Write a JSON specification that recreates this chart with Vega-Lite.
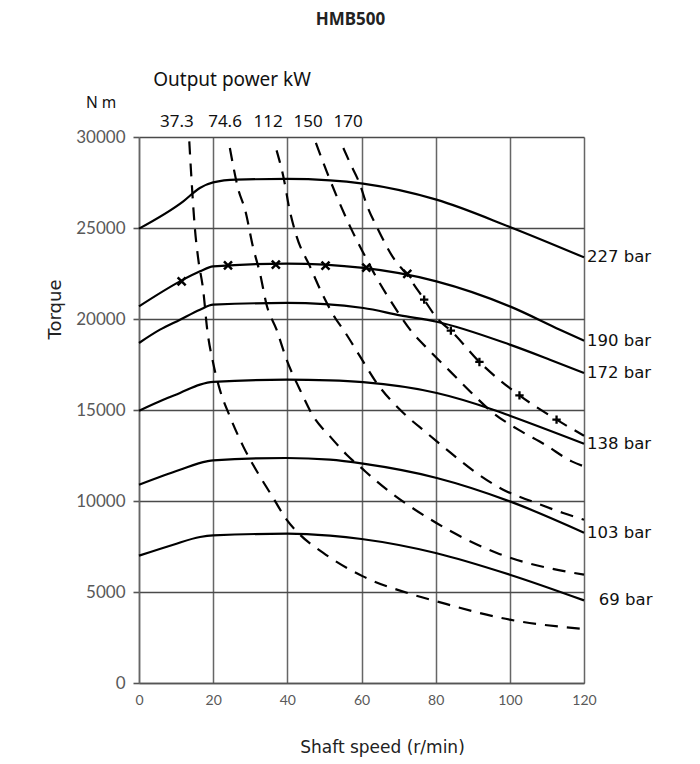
{
  "$schema": "https://vega.github.io/schema/vega-lite/v6.json",
  "width": 445,
  "height": 546,
  "autosize": {"type": "none"},
  "padding": {"left": 139, "top": 137, "right": 116, "bottom": 81},
  "background": "white",
  "title": {"text": "HMB500", "fontSize": 17, "fontWeight": "bold", "font": "Noto Sans", "color": "#222", "anchor": "middle", "dx": -11, "offset": 42},
  "config": {"view": {"stroke": null}},
  "datasets": {
    "curves": [
      {"series": "227 bar", "kind": "pressure", "speed": 0, "torque": 24964},
      {"series": "227 bar", "kind": "pressure", "speed": 11.95, "torque": 26464},
      {"series": "227 bar", "kind": "pressure", "speed": 16.4, "torque": 27200},
      {"series": "227 bar", "kind": "pressure", "speed": 20, "torque": 27508},
      {"series": "227 bar", "kind": "pressure", "speed": 26.3, "torque": 27656},
      {"series": "227 bar", "kind": "pressure", "speed": 39.8, "torque": 27695},
      {"series": "227 bar", "kind": "pressure", "speed": 51.5, "torque": 27618},
      {"series": "227 bar", "kind": "pressure", "speed": 60.4, "torque": 27437},
      {"series": "227 bar", "kind": "pressure", "speed": 80.2, "torque": 26557},
      {"series": "227 bar", "kind": "pressure", "speed": 100, "torque": 25057},
      {"series": "227 bar", "kind": "pressure", "speed": 120, "torque": 23387},
      {"series": "190 bar", "kind": "pressure", "speed": 0, "torque": 20694},
      {"series": "190 bar", "kind": "pressure", "speed": 11.06, "torque": 22068},
      {"series": "190 bar", "kind": "pressure", "speed": 16.45, "torque": 22618},
      {"series": "190 bar", "kind": "pressure", "speed": 20, "torque": 22892},
      {"series": "190 bar", "kind": "pressure", "speed": 39.8, "torque": 23041},
      {"series": "190 bar", "kind": "pressure", "speed": 60.5, "torque": 22804},
      {"series": "190 bar", "kind": "pressure", "speed": 80.2, "torque": 22068},
      {"series": "190 bar", "kind": "pressure", "speed": 100, "torque": 20694},
      {"series": "190 bar", "kind": "pressure", "speed": 113.5, "torque": 19414},
      {"series": "190 bar", "kind": "pressure", "speed": 120, "torque": 18809},
      {"series": "172 bar", "kind": "pressure", "speed": 0, "torque": 18683},
      {"series": "172 bar", "kind": "pressure", "speed": 5.66, "torque": 19414},
      {"series": "172 bar", "kind": "pressure", "speed": 11.06, "torque": 19963},
      {"series": "172 bar", "kind": "pressure", "speed": 16.45, "torque": 20513},
      {"series": "172 bar", "kind": "pressure", "speed": 20, "torque": 20788},
      {"series": "172 bar", "kind": "pressure", "speed": 39.8, "torque": 20881},
      {"series": "172 bar", "kind": "pressure", "speed": 60.5, "torque": 20606},
      {"series": "172 bar", "kind": "pressure", "speed": 70.4, "torque": 20200},
      {"series": "172 bar", "kind": "pressure", "speed": 80.3, "torque": 19850},
      {"series": "172 bar", "kind": "pressure", "speed": 100, "torque": 18590},
      {"series": "172 bar", "kind": "pressure", "speed": 110.8, "torque": 17765},
      {"series": "172 bar", "kind": "pressure", "speed": 120, "torque": 17035},
      {"series": "138 bar", "kind": "pressure", "speed": 0, "torque": 14963},
      {"series": "138 bar", "kind": "pressure", "speed": 6.55, "torque": 15567},
      {"series": "138 bar", "kind": "pressure", "speed": 11.06, "torque": 15936},
      {"series": "138 bar", "kind": "pressure", "speed": 16.45, "torque": 16392},
      {"series": "138 bar", "kind": "pressure", "speed": 20, "torque": 16540},
      {"series": "138 bar", "kind": "pressure", "speed": 39.8, "torque": 16667},
      {"series": "138 bar", "kind": "pressure", "speed": 51.5, "torque": 16628},
      {"series": "138 bar", "kind": "pressure", "speed": 60.4, "torque": 16530},
      {"series": "138 bar", "kind": "pressure", "speed": 80.3, "torque": 15936},
      {"series": "138 bar", "kind": "pressure", "speed": 95.5, "torque": 15018},
      {"series": "138 bar", "kind": "pressure", "speed": 100, "torque": 14688},
      {"series": "138 bar", "kind": "pressure", "speed": 120, "torque": 13150},
      {"series": "103 bar", "kind": "pressure", "speed": 0, "torque": 10897},
      {"series": "103 bar", "kind": "pressure", "speed": 11.06, "torque": 11721},
      {"series": "103 bar", "kind": "pressure", "speed": 18.26, "torque": 12177},
      {"series": "103 bar", "kind": "pressure", "speed": 20, "torque": 12232},
      {"series": "103 bar", "kind": "pressure", "speed": 39.8, "torque": 12364},
      {"series": "103 bar", "kind": "pressure", "speed": 51.5, "torque": 12270},
      {"series": "103 bar", "kind": "pressure", "speed": 60.4, "torque": 12051},
      {"series": "103 bar", "kind": "pressure", "speed": 80.3, "torque": 11265},
      {"series": "103 bar", "kind": "pressure", "speed": 100, "torque": 9979},
      {"series": "103 bar", "kind": "pressure", "speed": 120, "torque": 8259},
      {"series": "69 bar", "kind": "pressure", "speed": 0, "torque": 6995},
      {"series": "69 bar", "kind": "pressure", "speed": 9.25, "torque": 7600},
      {"series": "69 bar", "kind": "pressure", "speed": 16.45, "torque": 8023},
      {"series": "69 bar", "kind": "pressure", "speed": 20, "torque": 8111},
      {"series": "69 bar", "kind": "pressure", "speed": 40, "torque": 8204},
      {"series": "69 bar", "kind": "pressure", "speed": 51.5, "torque": 8094},
      {"series": "69 bar", "kind": "pressure", "speed": 60, "torque": 7913},
      {"series": "69 bar", "kind": "pressure", "speed": 80, "torque": 7144},
      {"series": "69 bar", "kind": "pressure", "speed": 100, "torque": 5951},
      {"series": "69 bar", "kind": "pressure", "speed": 120, "torque": 4539},
      {"series": "37.3 kW", "kind": "power", "speed": 13.56, "torque": 29761},
      {"series": "37.3 kW", "kind": "power", "speed": 14.0, "torque": 28206},
      {"series": "37.3 kW", "kind": "power", "speed": 15.1, "torque": 24909},
      {"series": "37.3 kW", "kind": "power", "speed": 16.0, "torque": 23260},
      {"series": "37.3 kW", "kind": "power", "speed": 17.3, "torque": 21612},
      {"series": "37.3 kW", "kind": "power", "speed": 18.4, "torque": 19414},
      {"series": "37.3 kW", "kind": "power", "speed": 20.0, "torque": 17584},
      {"series": "37.3 kW", "kind": "power", "speed": 21.8, "torque": 16117},
      {"series": "37.3 kW", "kind": "power", "speed": 24.5, "torque": 14650},
      {"series": "37.3 kW", "kind": "power", "speed": 28.1, "torque": 13001},
      {"series": "37.3 kW", "kind": "power", "speed": 32.6, "torque": 11353},
      {"series": "37.3 kW", "kind": "power", "speed": 36.2, "torque": 10166},
      {"series": "37.3 kW", "kind": "power", "speed": 39.8, "torque": 8973},
      {"series": "37.3 kW", "kind": "power", "speed": 43.4, "torque": 8149},
      {"series": "37.3 kW", "kind": "power", "speed": 49.6, "torque": 7160},
      {"series": "37.3 kW", "kind": "power", "speed": 60.4, "torque": 5858},
      {"series": "37.3 kW", "kind": "power", "speed": 73.9, "torque": 4852},
      {"series": "37.3 kW", "kind": "power", "speed": 80.3, "torque": 4484},
      {"series": "37.3 kW", "kind": "power", "speed": 100, "torque": 3478},
      {"series": "37.3 kW", "kind": "power", "speed": 120, "torque": 2967},
      {"series": "74.6 kW", "kind": "power", "speed": 24.5, "torque": 29398},
      {"series": "74.6 kW", "kind": "power", "speed": 26.8, "torque": 27107},
      {"series": "74.6 kW", "kind": "power", "speed": 28.6, "torque": 26008},
      {"series": "74.6 kW", "kind": "power", "speed": 30.8, "torque": 23903},
      {"series": "74.6 kW", "kind": "power", "speed": 32.6, "torque": 22530},
      {"series": "74.6 kW", "kind": "power", "speed": 34.4, "torque": 20788},
      {"series": "74.6 kW", "kind": "power", "speed": 37.1, "torque": 19414},
      {"series": "74.6 kW", "kind": "power", "speed": 39.8, "torque": 17765},
      {"series": "74.6 kW", "kind": "power", "speed": 43.4, "torque": 16117},
      {"series": "74.6 kW", "kind": "power", "speed": 47.0, "torque": 14650},
      {"series": "74.6 kW", "kind": "power", "speed": 51.5, "torque": 13551},
      {"series": "74.6 kW", "kind": "power", "speed": 56.0, "torque": 12545},
      {"series": "74.6 kW", "kind": "power", "speed": 60.5, "torque": 11721},
      {"series": "74.6 kW", "kind": "power", "speed": 64.1, "torque": 11078},
      {"series": "74.6 kW", "kind": "power", "speed": 80.2, "torque": 8792},
      {"series": "74.6 kW", "kind": "power", "speed": 96.5, "torque": 7144},
      {"series": "74.6 kW", "kind": "power", "speed": 120, "torque": 5951},
      {"series": "112 kW", "kind": "power", "speed": 37.1, "torque": 29266},
      {"series": "112 kW", "kind": "power", "speed": 39.1, "torque": 27656},
      {"series": "112 kW", "kind": "power", "speed": 40.5, "torque": 26101},
      {"series": "112 kW", "kind": "power", "speed": 42.5, "torque": 24541},
      {"series": "112 kW", "kind": "power", "speed": 46.1, "torque": 22892},
      {"series": "112 kW", "kind": "power", "speed": 49.3, "torque": 21431},
      {"series": "112 kW", "kind": "power", "speed": 52.9, "torque": 20057},
      {"series": "112 kW", "kind": "power", "speed": 55.1, "torque": 19414},
      {"series": "112 kW", "kind": "power", "speed": 59.6, "torque": 17947},
      {"series": "112 kW", "kind": "power", "speed": 64.1, "torque": 16485},
      {"series": "112 kW", "kind": "power", "speed": 71.3, "torque": 14837},
      {"series": "112 kW", "kind": "power", "speed": 77.6, "torque": 13738},
      {"series": "112 kW", "kind": "power", "speed": 83.0, "torque": 12820},
      {"series": "112 kW", "kind": "power", "speed": 91.0, "torque": 11540},
      {"series": "112 kW", "kind": "power", "speed": 98.2, "torque": 10622},
      {"series": "112 kW", "kind": "power", "speed": 106.3, "torque": 9950},
      {"series": "112 kW", "kind": "power", "speed": 114.4, "torque": 9342},
      {"series": "112 kW", "kind": "power", "speed": 120, "torque": 8973},
      {"series": "150 kW", "kind": "power", "speed": 47.7, "torque": 29673},
      {"series": "150 kW", "kind": "power", "speed": 50.6, "torque": 28112},
      {"series": "150 kW", "kind": "power", "speed": 53.5, "torque": 26651},
      {"series": "150 kW", "kind": "power", "speed": 56.9, "torque": 25090},
      {"series": "150 kW", "kind": "power", "speed": 60.5, "torque": 23629},
      {"series": "150 kW", "kind": "power", "speed": 64.1, "torque": 22255},
      {"series": "150 kW", "kind": "power", "speed": 68.2, "torque": 20881},
      {"series": "150 kW", "kind": "power", "speed": 73.1, "torque": 19414},
      {"series": "150 kW", "kind": "power", "speed": 78.5, "torque": 18221},
      {"series": "150 kW", "kind": "power", "speed": 83.9, "torque": 17122},
      {"series": "150 kW", "kind": "power", "speed": 89.7, "torque": 15936},
      {"series": "150 kW", "kind": "power", "speed": 95.5, "torque": 14837},
      {"series": "150 kW", "kind": "power", "speed": 102.3, "torque": 13919},
      {"series": "150 kW", "kind": "power", "speed": 109.5, "torque": 13095},
      {"series": "150 kW", "kind": "power", "speed": 116.7, "torque": 12177},
      {"series": "150 kW", "kind": "power", "speed": 120, "torque": 11902},
      {"series": "170 kW", "kind": "power", "speed": 55.1, "torque": 29398},
      {"series": "170 kW", "kind": "power", "speed": 56.9, "torque": 28574},
      {"series": "170 kW", "kind": "power", "speed": 59.6, "torque": 27382},
      {"series": "170 kW", "kind": "power", "speed": 61.4, "torque": 26283},
      {"series": "170 kW", "kind": "power", "speed": 64.5, "torque": 24909},
      {"series": "170 kW", "kind": "power", "speed": 68.6, "torque": 23354},
      {"series": "170 kW", "kind": "power", "speed": 72.2, "torque": 22436},
      {"series": "170 kW", "kind": "power", "speed": 75.7, "torque": 21431},
      {"series": "170 kW", "kind": "power", "speed": 80.7, "torque": 19963},
      {"series": "170 kW", "kind": "power", "speed": 84.1, "torque": 19359},
      {"series": "170 kW", "kind": "power", "speed": 91.8, "torque": 17639},
      {"series": "170 kW", "kind": "power", "speed": 102.6, "torque": 15804},
      {"series": "170 kW", "kind": "power", "speed": 112.6, "torque": 14468},
      {"series": "170 kW", "kind": "power", "speed": 120, "torque": 13589}
    ],
    "crosses": [
      {"speed": 11.5, "torque": 22068},
      {"speed": 24.0, "torque": 22947},
      {"speed": 36.9, "torque": 22985},
      {"speed": 50.3, "torque": 22930},
      {"speed": 61.3, "torque": 22820},
      {"speed": 72.35, "torque": 22475}
    ],
    "pluses": [
      {"speed": 76.9, "torque": 21062},
      {"speed": 84.1, "torque": 19359},
      {"speed": 91.8, "torque": 17639},
      {"speed": 102.6, "torque": 15804},
      {"speed": 112.6, "torque": 14468}
    ],
    "endLabels": [
      {"label": "227 bar", "speed": 120, "torque": 23387},
      {"label": "190 bar", "speed": 120, "torque": 18809},
      {"label": "172 bar", "speed": 120, "torque": 17035},
      {"label": "138 bar", "speed": 120, "torque": 13150},
      {"label": "103 bar", "speed": 120, "torque": 8259},
      {"label": "69 bar", "speed": 123.2, "torque": 4580}
    ],
    "powerLabels": [
      {"label": "37.3", "speed": 10.2, "torque": 30850},
      {"label": "74.6", "speed": 23.2, "torque": 30850},
      {"label": "112", "speed": 34.8, "torque": 30850},
      {"label": "150", "speed": 45.6, "torque": 30850},
      {"label": "170", "speed": 56.4, "torque": 30850}
    ],
    "notes": [
      {"label": "Output power kW", "speed": 25.1, "torque": 33150, "size": "big"},
      {"label": "N m", "speed": -10.2, "torque": 31890, "size": "small"}
    ]
  },
  "layer": [
    {
      "data": {"name": "curves"},
      "transform": [{"filter": "datum.kind === 'pressure'"}],
      "mark": {"type": "line", "color": "black", "strokeWidth": 2.2, "interpolate": "monotone", "clip": false},
      "encoding": {
        "x": {
          "field": "speed", "type": "quantitative",
          "scale": {"domain": [0, 120], "nice": false, "zero": false},
          "axis": {
            "values": [0, 20, 40, 60, 80, 100, 120],
            "title": "Shaft speed (r/min)",
            "titleFont": "DejaVu Sans", "titleFontSize": 17, "titleFontWeight": "normal", "titleColor": "#222",
            "titleX": 243, "titleY": 64, "titleBaseline": "middle", "titleAnchor": "start", "titleAlign": "center",
            "labelFont": "Lato", "labelFontSize": 14, "labelColor": "#595959", "labelPadding": 10, "labelFlush": false,
            "ticks": false, "domain": true, "domainColor": "#555", "domainWidth": 1.6,
            "grid": true, "gridColor": "#666", "gridWidth": 1.5
          }
        },
        "y": {
          "field": "torque", "type": "quantitative",
          "scale": {"domain": [0, 30000], "nice": false, "zero": false},
          "axis": {
            "values": [0, 5000, 10000, 15000, 20000, 25000, 30000],
            "format": "d",
            "title": "Torque",
            "titleFont": "DejaVu Sans", "titleFontSize": 18, "titleFontWeight": "normal", "titleColor": "#222",
            "titleX": -84, "titleY": 172, "titleAngle": -90, "titleBaseline": "middle", "titleAlign": "center", "titleAnchor": "start",
            "labelFont": "Lato", "labelFontSize": 17, "labelColor": "#595959", "labelPadding": 8, "labelFlush": false,
            "ticks": true, "tickSize": 6, "tickColor": "#555", "tickWidth": 1.6,
            "domain": true, "domainColor": "#666", "domainWidth": 1.5,
            "grid": true, "gridColor": "#4a4a4a", "gridWidth": 1.6
          }
        },
        "detail": {"field": "series"}
      }
    },
    {
      "data": {"name": "curves"},
      "transform": [{"filter": "datum.kind === 'power'"}],
      "mark": {"type": "line", "color": "black", "strokeWidth": 2.2, "strokeDash": [13, 9], "interpolate": "monotone", "clip": false},
      "encoding": {
        "x": {"field": "speed", "type": "quantitative"},
        "y": {"field": "torque", "type": "quantitative"},
        "detail": {"field": "series"}
      }
    },
    {
      "data": {"name": "crosses"},
      "mark": {"type": "point", "shape": "M-1,-1L1,1M-1,1L1,-1", "filled": false, "stroke": "black", "strokeWidth": 2.5, "size": 64, "opacity": 1},
      "encoding": {
        "x": {"field": "speed", "type": "quantitative"},
        "y": {"field": "torque", "type": "quantitative"}
      }
    },
    {
      "data": {"name": "pluses"},
      "mark": {"type": "point", "shape": "M-1,0L1,0M0,-1L0,1", "filled": false, "stroke": "black", "strokeWidth": 2.3, "size": 70, "opacity": 1},
      "encoding": {
        "x": {"field": "speed", "type": "quantitative"},
        "y": {"field": "torque", "type": "quantitative"}
      }
    },
    {
      "data": {"name": "endLabels"},
      "mark": {"type": "text", "align": "left", "baseline": "middle", "dx": 3, "font": "DejaVu Sans", "fontSize": 16.5, "color": "#111", "clip": false},
      "encoding": {
        "x": {"field": "speed", "type": "quantitative"},
        "y": {"field": "torque", "type": "quantitative"},
        "text": {"field": "label"}
      }
    },
    {
      "data": {"name": "powerLabels"},
      "mark": {"type": "text", "align": "center", "baseline": "middle", "font": "Noto Sans", "fontSize": 17, "color": "#111", "clip": false},
      "encoding": {
        "x": {"field": "speed", "type": "quantitative"},
        "y": {"field": "torque", "type": "quantitative"},
        "text": {"field": "label"}
      }
    },
    {
      "data": {"name": "notes"},
      "transform": [{"filter": "datum.size === 'big'"}],
      "mark": {"type": "text", "align": "center", "baseline": "middle", "font": "Noto Sans", "fontSize": 19, "color": "#111", "clip": false},
      "encoding": {
        "x": {"field": "speed", "type": "quantitative"},
        "y": {"field": "torque", "type": "quantitative"},
        "text": {"field": "label"}
      }
    },
    {
      "data": {"name": "notes"},
      "transform": [{"filter": "datum.size === 'small'"}],
      "mark": {"type": "text", "align": "center", "baseline": "middle", "font": "Noto Sans", "fontSize": 15.5, "color": "#111", "clip": false},
      "encoding": {
        "x": {"field": "speed", "type": "quantitative"},
        "y": {"field": "torque", "type": "quantitative"},
        "text": {"field": "label"}
      }
    }
  ]
}
